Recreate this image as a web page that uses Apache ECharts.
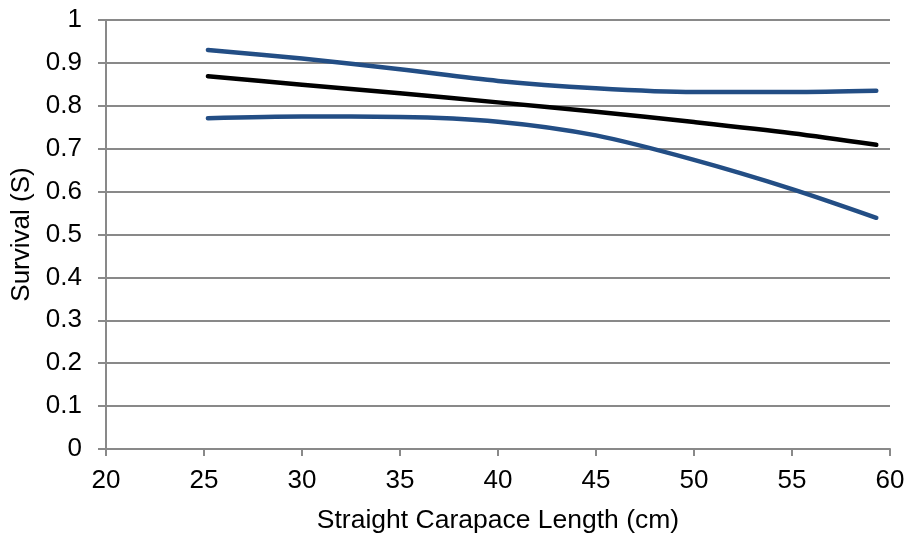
<!DOCTYPE html>
<html>
<head>
<meta charset="utf-8">
<script src="https://cdn.jsdelivr.net/npm/echarts@6/dist/echarts.min.js"></script>
<style>
  html, body { margin: 0; padding: 0; background: #fff; }
  #chart { width: 906px; height: 537px; }
</style>
</head>
<body>
<div id="chart"></div>
<script>
// straight carapace length (cm)
var lengths = [25.2, 30, 35, 40, 45, 50, 55, 59.3];
// survival estimate and its confidence bounds
var survival = [0.869, 0.849, 0.829, 0.808, 0.786, 0.762, 0.736, 0.709];
var upperCI = [0.930, 0.910, 0.885, 0.858, 0.841, 0.832, 0.832, 0.835];
var lowerCI = [0.771, 0.775, 0.774, 0.763, 0.731, 0.674, 0.606, 0.539];

function pairs(xs, ys) {
	var out = [];
	for (var i = 0; i < xs.length; i++) {
		out.push([xs[i], ys[i]]);
	}
	return out;
}

var FONT = '"Liberation Sans", Arial, sans-serif';
var GRID_COLOR = '#898989';
var BLUE = '#234E85';

function lineSeries(name, ys, color) {
	return {
		name: name,
		type: 'line',
		data: pairs(lengths, ys),
		smooth: 0.3,
		showSymbol: false,
		symbol: 'none',
		lineStyle: { color: color, width: 4.5, cap: 'round', join: 'round' },
		z: name === 'S' ? 3 : 2
	};
}

var chart = echarts.init(document.getElementById('chart'), null, { renderer: 'canvas' });
chart.setOption({
	animation: false,
	backgroundColor: '#fff',
	grid: { left: 106, right: 16, top: 20, bottom: 88, outerBoundsMode: 'none' },
	xAxis: {
		type: 'value',
		min: 20,
		max: 60,
		interval: 5,
		name: 'Straight Carapace Length (cm)',
		nameLocation: 'middle',
		nameGap: 58,
		nameTextStyle: { fontFamily: FONT, fontSize: 26.5, color: '#000' },
		axisLine: { show: true, lineStyle: { color: GRID_COLOR, width: 2 } },
		axisTick: { show: true, length: 7, lineStyle: { color: GRID_COLOR, width: 2 } },
		axisLabel: { fontFamily: FONT, fontSize: 26, color: '#000', margin: 19 },
		splitLine: { show: false }
	},
	yAxis: {
		type: 'value',
		min: 0,
		max: 1,
		interval: 0.1,
		name: 'Survival (S)',
		nameLocation: 'middle',
		nameGap: 70,
		nameTextStyle: { fontFamily: FONT, fontSize: 26, color: '#000' },
		axisLine: { show: true, lineStyle: { color: GRID_COLOR, width: 2 } },
		axisTick: { show: true, length: 8, lineStyle: { color: GRID_COLOR, width: 2 } },
		axisLabel: {
			fontFamily: FONT, fontSize: 26, color: '#000', margin: 24,
			formatter: function (v) { return String(Math.round(v * 10) / 10); }
		},
		splitLine: { show: true, lineStyle: { color: GRID_COLOR, width: 2 } }
	},
	series: [
		lineSeries('Upper', upperCI, BLUE),
		lineSeries('Lower', lowerCI, BLUE),
		lineSeries('S', survival, '#000')
	]
});
</script>
</body>
</html>
